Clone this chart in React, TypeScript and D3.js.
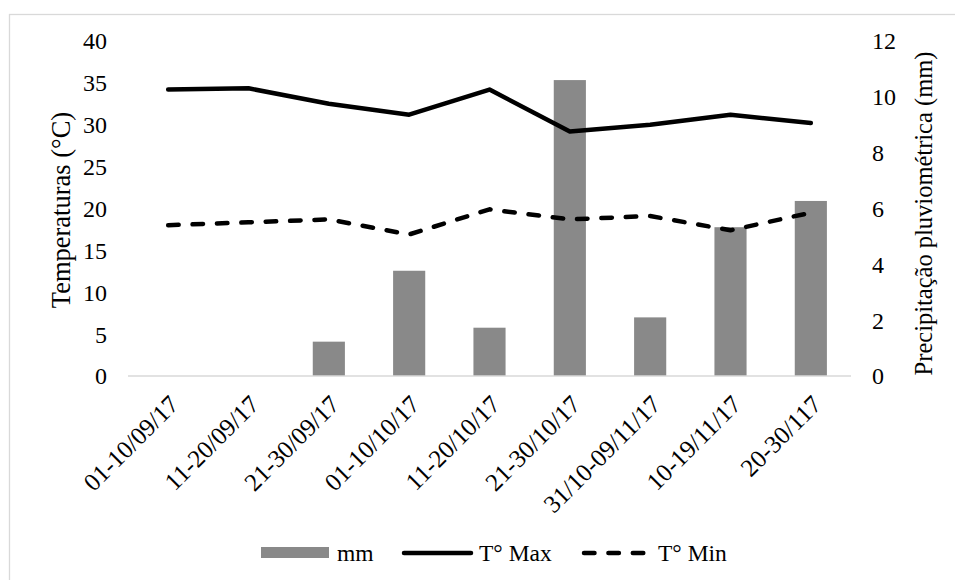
import React from "react";
import * as d3 from "d3";

const categories = [
  "01-10/09/17",
  "11-20/09/17",
  "21-30/09/17",
  "01-10/10/17",
  "11-20/10/17",
  "21-30/10/17",
  "31/10-09/11/17",
  "10-19/11/17",
  "20-30/117",
];
const precipMm = [0, 0, 1.23, 3.77, 1.73, 10.6, 2.1, 5.33, 6.27];
const tMax = [34.2, 34.35, 32.5, 31.2, 34.2, 29.2, 30.0, 31.2, 30.2];
const tMin = [18.0, 18.35, 18.7, 16.9, 19.9, 18.7, 19.1, 17.4, 19.5];
const tempTicks = [0, 5, 10, 15, 20, 25, 30, 35, 40];
const mmTicks = [0, 2, 4, 6, 8, 10, 12];

const W = 955;
const H = 580;
const L = 128;
const R = 851;
const T = 41;
const B = 376;
const FONT = "'Liberation Serif', 'Times New Roman', serif";
const FS = 24;
const LFS = 23.5;

export default function App() {
  const x = d3.scaleBand<string>().domain(categories).range([L, R]).paddingInner(0.6).paddingOuter(0.3);
  const yT = d3.scaleLinear().domain([0, 40]).range([B, T]);
  const yM = d3.scaleLinear().domain([0, 12]).range([B, T]);
  const cx = (c: string) => (x(c) as number) + x.bandwidth() / 2;

  const line = (vals: number[]) =>
    d3
      .line<number>()
      .x((_, i) => cx(categories[i]))
      .y((v) => yT(v))(vals) as string;

  return (
    <svg width={W} height={H} style={{ position: "absolute", left: 0, top: 0, background: "#fff" }} fontFamily={FONT}>
      <rect x={9.5} y={14.5} width={W + 10} height={H + 10} fill="#fff" stroke="#d9d9d9" strokeWidth={1.3} />
      {categories.map((c, i) => (
        <rect key={c} x={x(c)} y={yM(precipMm[i])} width={x.bandwidth()} height={B - yM(precipMm[i])} fill="#898989" />
      ))}
      <line x1={L} x2={R} y1={B} y2={B} stroke="#d9d9d9" strokeWidth={1.5} />
      <path d={line(tMax)} fill="none" stroke="#000" strokeWidth={4.5} strokeLinejoin="round" strokeLinecap="round" />
      <path d={line(tMin)} fill="none" stroke="#000" strokeWidth={4.5} strokeLinejoin="round" strokeLinecap="round" strokeDasharray="10.5 13.9" />
      {tempTicks.map((t) => (
        <text key={t} x={107} y={yT(t)} dy="0.35em" textAnchor="end" fontSize={FS} fill="#000">
          {t}
        </text>
      ))}
      {mmTicks.map((t) => (
        <text key={t} x={872} y={yM(t)} dy="0.35em" textAnchor="start" fontSize={FS} fill="#000">
          {t}
        </text>
      ))}
      <text transform={`translate(70, 210) rotate(-90)`} textAnchor="middle" fontSize={26.5} fill="#000">
        Temperaturas (°C)
      </text>
      <text transform={`translate(932, 213.5) rotate(-90)`} textAnchor="middle" fontSize={24.5} fill="#000">
        Precipitação pluviométrica (mm)
      </text>
      {categories.map((c) => (
        <text key={c} transform={`translate(${cx(c) + 12}, 406) rotate(-45)`} textAnchor="end" fontSize={25} fill="#000">
          {c}
        </text>
      ))}
      <g>
        <rect x={261} y={547} width={68} height={11} fill="#898989" />
        <text x={337} y={553} dy="0.35em" fontSize={LFS} fill="#000">mm</text>
        <line x1={404} x2={471} y1={553} y2={553} stroke="#000" strokeWidth={4.5} strokeLinecap="round" />
        <text x={479} y={553} dy="0.35em" fontSize={LFS} fill="#000">T° Max</text>
        <line x1={584} x2={646} y1={553} y2={553} stroke="#000" strokeWidth={4.5} strokeLinecap="round" strokeDasharray="10.5 13.9" />
        <text x={658} y={553} dy="0.35em" fontSize={LFS} fill="#000">T° Min</text>
      </g>
    </svg>
  );
}
